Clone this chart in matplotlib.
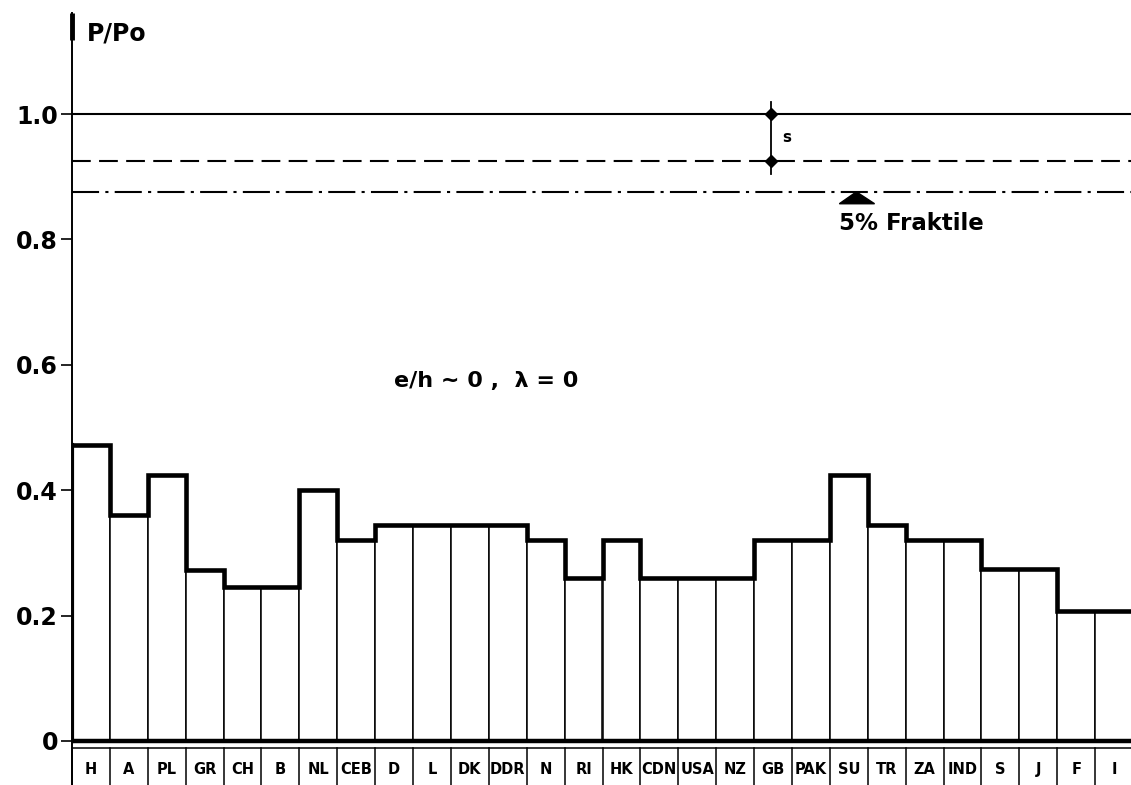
import numpy as np
import matplotlib
matplotlib.use("Agg")
import matplotlib.pyplot as plt
from matplotlib.patches import Polygon

# countries along the x axis and their P/Po values
countries = ['H', 'A', 'PL', 'GR', 'CH', 'B', 'NL', 'CEB', 'D', 'L', 'DK', 'DDR', 'N', 'RI',
             'HK', 'CDN', 'USA', 'NZ', 'GB', 'PAK', 'SU', 'TR', 'ZA', 'IND', 'S', 'J', 'F', 'I']
p_ratio = [0.472, 0.360, 0.425, 0.272, 0.245, 0.245, 0.400, 0.320, 0.345, 0.345, 0.345, 0.345, 0.320, 0.260,
           0.320, 0.260, 0.260, 0.260, 0.320, 0.320, 0.425, 0.345, 0.320, 0.320, 0.275, 0.275, 0.207, 0.207]

# reference levels
p_mean = 1.0
p_mean_minus_s = 0.925
p_fractile = 0.875

yticks = [0, 0.2, 0.4, 0.6, 0.8, 1.0]
ytick_labels = ['0', '0.2', '0.4', '0.6', '0.8', '1.0']

plt.rcParams['font.family'] = ['DejaVu Sans']
plt.rcParams['font.weight'] = 'bold'

fig = plt.figure(figsize=(11.31, 7.85), dpi=100)
ax = fig.add_axes([72/1131, 0.0, 1061/1131, 1.0])
n = len(countries)
ax.set_xlim(0, n)
ax.set_ylim(-0.0702, 1.182)

for sp in ['top', 'right', 'bottom']:
    ax.spines[sp].set_visible(False)
ax.spines['left'].set_linewidth(1.4)
ax.spines['left'].set_bounds(-0.0702, 1.161)
ax.plot([0, 0], [1.118, 1.161], color='black', lw=3.5, solid_capstyle='butt', clip_on=False)

ax.set_xticks([])
ax.set_yticks(yticks)
ax.set_yticklabels(ytick_labels, fontsize=17, fontweight='bold')
ax.tick_params(axis='y', length=8, width=1.2, pad=2)

# bars: thin separators, thick stepped outline on top
edges = np.arange(n + 1)
ax.bar(edges[:-1], p_ratio, width=1.0, align='edge', facecolor='white', edgecolor='black', linewidth=1.1)
ax.stairs(p_ratio, edges, baseline=None, color='black', lw=3.3)
ax.plot([0, 0], [0, p_ratio[0]], color='black', lw=3.0)

# x axis and the row of country boxes below it
ax.axhline(0, color='black', lw=3.2)
ax.axhline(-0.011, color='black', lw=1.1)
for e in edges[:-1]:
    ax.plot([e, e], [-0.011, -0.075], color='black', lw=1.1, clip_on=False)
for i, c in enumerate(countries):
    ax.text(i + 0.5, -0.046, c, ha='center', va='center', fontsize=10.5, fontweight='bold')

# mean, mean - s and 5% fractile lines
ax.axhline(p_mean, color='black', lw=1.5)
ax.axhline(p_mean_minus_s, color='black', lw=1.5, dashes=(9, 4))
ax.axhline(p_fractile, color='black', lw=1.5, dashes=(13, 3, 1.5, 3))

# standard deviation marker
sx = 18.45
ax.plot([sx, sx], [0.905, 1.02], color='black', lw=1.3)
ax.plot([sx, sx], [p_mean, p_mean_minus_s], 'D', color='black', markersize=6)
ax.text(sx + 0.3, 0.963, 's', fontsize=11, fontweight='bold', va='center')

# fractile arrow head and label
tri = Polygon([[20.25, 0.857], [21.18, 0.857], [20.70, 0.876]], closed=True, color='black')
ax.add_patch(tri)
ax.text(20.25, 0.825, '5% Fraktile', fontsize=16.5, fontweight='bold', va='center', ha='left')

ax.text(8.5, 0.574, 'e/h ~ 0 ,  λ = 0', fontsize=16, fontweight='bold', va='center', ha='left')
ax.text(0.38, 1.129, 'P/Po', fontsize=17, fontweight='bold', va='center', ha='left')

fig.savefig('out.png', dpi=100, facecolor='white')
